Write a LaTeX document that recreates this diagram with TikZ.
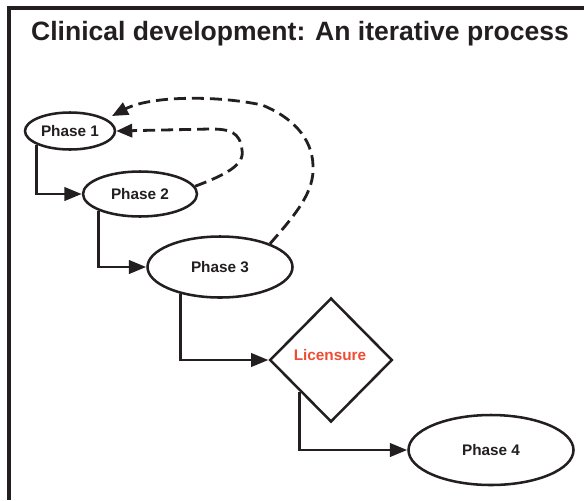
\documentclass[tikz,border=0pt]{standalone}
\usepackage{fontspec}
\setmainfont{Liberation Sans}
\usetikzlibrary{arrows.meta,shapes}

\definecolor{ink}{HTML}{231F20}
\definecolor{licred}{HTML}{EF4B35}

\begin{document}
\begin{tikzpicture}[x=0.75pt, y=-0.75pt, ink,
  phase/.style={draw, ellipse, line width=1.9pt, inner sep=0pt, font=\fontsize{11.5}{13}\selectfont\bfseries},
  gate/.style={draw, diamond, line width=1.9pt, inner sep=0pt, minimum width=92pt, minimum height=93pt},
  flow/.style={-{Triangle[length=13pt,width=10pt]}, line width=2.2pt},
  iter/.style={-{Triangle[length=12pt,width=10pt]}, line width=2.1pt, dash pattern=on 9pt off 4.5pt},
]

\useasboundingbox (0,0) rectangle (584,500);

% frame
\draw[line width=2.4pt] (9,500) -- (9,8) -- (584,8);

\node[font=\fontsize{19.9}{22}\selectfont\bfseries] (title) at (300,34) {Clinical development: An iterative process};

\node[phase, minimum width=67.5pt, minimum height=27.75pt] (P1) at (70,131) {Phase 1};
\node[phase, minimum width=85.5pt, minimum height=33.75pt] (P2) at (140,194) {Phase 2};
\node[phase, minimum width=108.75pt, minimum height=45.75pt] (P3) at (220,267) {Phase 3};
\node[gate] (L) at (331,360) {};
\node[font=\fontsize{11.5}{13}\selectfont\bfseries, licred] (Ltext) at (330,355) {Licensure};
\node[phase, minimum width=123.75pt, minimum height=52.5pt] (P4) at (491,450) {Phase 4};

\coordinate (T1) at (112,116);

\draw[flow] (P1.202) |- (P2.west);
\draw[flow] (P2.202) |- (P3.west);
\draw[flow] (P3.214) |- (L.west);
\draw[flow] (L.south west) |- (P4.west);

% iterations back to phase 1
\draw[iter] (P2.8) .. controls (225,175) and (245,165) .. (242,150)
  .. controls (240,132) and (230,129) .. (210,129) -- (P1.east);
\draw[iter] (P3.25) .. controls (295,215) and (315,192) .. (313,165)
  .. controls (312,138) and (292,117) .. (262,105)
  .. controls (215,95) and (150,96) .. (T1);

\end{tikzpicture}
\end{document}
